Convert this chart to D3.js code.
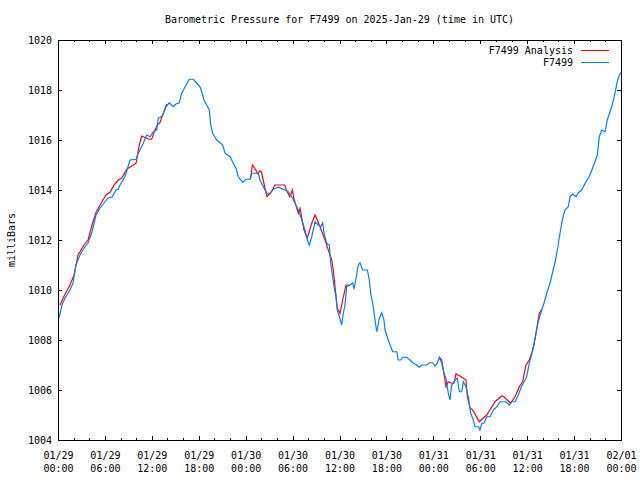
<!DOCTYPE html>
<html>
<head>
<meta charset="utf-8">
<script src="https://cdn.jsdelivr.net/npm/d3@7"></script>
<style>
html,body{margin:0;padding:0;background:#fff;}
svg{display:block;}
text{font-family:"DejaVu Sans Mono","Liberation Mono",monospace;font-size:10px;fill:#000;}
</style>
</head>
<body>
<svg id="chart" width="640" height="480"></svg>
<script>
// ---- data (hours after 2025-01-29 00:00 UTC, pressure in mb) ----
const stationHours = [0.13,0.51,0.90,1.53,1.92,2.30,2.81,3.33,3.84,4.35,4.86,5.37,5.88,6.39,6.91,7.42,7.71,7.93,8.57,9.21,9.98,10.27,10.91,11.34,11.77,12.19,12.62,12.83,13.26,13.47,13.81,14.23,14.75,15.09,15.51,15.82,16.15,16.46,16.79,17.30,17.74,18.16,18.38,18.67,19.02,19.35,19.53,19.78,20.30,21.06,21.36,22.00,22.42,22.76,23.06,23.62,24.04,24.55,24.77,25.62,25.83,26.26,26.69,27.11,27.53,28.17,28.81,29.45,29.89,30.31,30.73,31.17,31.59,31.88,32.14,32.45,32.87,33.29,33.60,33.85,34.02,34.36,34.70,34.87,35.13,35.30,35.55,35.72,35.98,36.28,36.49,36.70,36.92,37.34,37.69,37.86,38.11,38.40,38.62,38.97,39.56,39.81,39.99,40.32,40.54,40.76,41.09,41.40,41.69,41.82,42.24,42.55,42.80,43.32,43.52,43.83,44.08,44.59,45.02,45.44,45.87,46.21,46.51,47.15,47.48,47.92,48.21,48.51,48.76,49.07,49.36,49.62,49.91,50.13,50.35,50.55,50.77,51.07,51.32,51.63,51.84,52.18,52.47,52.78,53.11,53.33,53.75,53.97,54.19,54.48,54.83,55.25,55.67,56.11,56.53,57.30,57.72,58.02,58.45,58.87,59.17,59.60,59.94,60.27,60.71,61.13,61.42,61.73,62.15,62.50,62.92,63.27,63.56,63.86,64.20,64.49,64.84,65.26,65.48,65.82,66.25,66.54,66.97,67.52,68.03,68.67,68.97,69.23,69.53,69.95,70.25,70.59,70.94,71.23,71.52,71.78,72.0];
const stationValues = [1008.88,1009.4,1009.68,1010.0,1010.28,1011.0,1011.4,1011.68,1011.88,1012.32,1013.0,1013.28,1013.48,1013.68,1013.72,1014.0,1014.03,1014.2,1014.53,1015.2,1015.23,1015.47,1015.87,1016.2,1016.13,1016.33,1016.4,1016.87,1016.93,1017.07,1017.33,1017.49,1017.33,1017.44,1017.49,1017.87,1018.07,1018.24,1018.43,1018.43,1018.27,1018.13,1017.93,1017.6,1017.4,1017.2,1016.6,1016.27,1016.0,1015.8,1015.47,1015.33,1015.07,1014.87,1014.53,1014.31,1014.43,1014.43,1014.67,1014.67,1014.4,1014.13,1013.87,1013.87,1014.03,1014.11,1014.03,1013.93,1013.73,1013.47,1013.2,1012.8,1012.4,1012.0,1011.8,1012.13,1012.73,1012.6,1012.53,1012.69,1012.27,1011.87,1011.8,1011.07,1010.53,1010.13,1009.73,1009.2,1008.93,1008.6,1009.07,1009.4,1010.13,1010.2,1010.29,1010.03,1010.47,1011.0,1011.09,1010.8,1010.8,1010.4,1009.87,1009.33,1008.8,1008.33,1008.87,1009.09,1008.8,1008.4,1008.0,1007.73,1007.53,1007.53,1007.2,1007.2,1007.31,1007.31,1007.2,1007.07,1007.0,1006.91,1007.0,1007.0,1007.09,1007.09,1006.96,1007.07,1007.31,1007.07,1006.67,1006.47,1005.87,1005.6,1006.2,1006.27,1006.4,1006.47,1005.93,1005.93,1006.33,1006.13,1005.73,1005.07,1004.8,1004.53,1004.53,1004.4,1004.67,1004.67,1004.93,1004.93,1005.2,1005.33,1005.53,1005.53,1005.4,1005.53,1005.53,1005.8,1006.07,1006.33,1006.53,1007.07,1007.6,1008.27,1008.73,1009.07,1009.47,1009.87,1010.27,1010.73,1011.1,1011.6,1012.27,1012.8,1013.2,1013.33,1013.73,1013.84,1013.73,1013.89,1014.0,1014.33,1014.6,1015.13,1015.4,1016.13,1016.4,1016.33,1016.8,1017.13,1017.47,1017.87,1018.33,1018.6,1018.7];

// analysis series, three separate segments (gaps between them)
const analysisHours = [
  [0.26,0.77,1.53,2.05,2.56,3.33,3.84,4.35,4.86,5.37,6.14,6.65,7.16,7.71,8.15,8.79,9.98,10.40,10.70,11.13,11.68,11.98,12.28,12.70,13.04,13.47,13.90],
  [24.62,24.86,25.16,25.58,25.80,26.01,26.43,26.73,27.30,27.72,29.00,29.21,29.64,29.98,30.15,30.73,30.95,31.46,31.88,32.45,32.87,33.16,33.51,34.15,34.57,35.00,35.21,35.43,35.72,36.06,36.41,36.83,37.25],
  [48.76,49.07,49.28,49.62,49.91,50.35,50.64,50.90,51.41,51.84,52.18,52.35,52.70,53.04,53.88,54.83,55.89,56.74,57.04,57.89,58.45,58.99,59.42,59.85,60.27,60.71,60.87,61.13,61.55,61.86]
];
const analysisValues = [
  [1009.4,1009.75,1010.2,1010.6,1011.4,1011.8,1012.0,1012.6,1013.1,1013.4,1013.8,1013.9,1014.2,1014.4,1014.47,1014.83,1015.07,1015.8,1016.16,1016.1,1016.03,1016.03,1016.3,1016.6,1016.69,1017.07,1017.44],
  [1014.43,1015.0,1014.87,1014.64,1014.77,1014.73,1014.13,1013.73,1013.93,1014.2,1014.2,1014.0,1013.73,1014.0,1013.67,1013.07,1013.27,1012.4,1012.07,1012.67,1013.0,1012.8,1012.53,1012.0,1011.6,1011.2,1010.8,1010.13,1009.27,1009.07,1009.6,1010.2,1010.2],
  [1007.31,1007.2,1006.8,1006.13,1006.33,1006.27,1006.27,1006.64,1006.56,1006.47,1006.4,1005.73,1005.27,1005.2,1004.73,1005.0,1005.53,1005.76,1005.73,1005.47,1005.73,1006.13,1006.33,1007.0,1007.2,1007.6,1007.8,1008.27,1009.07,1009.23]
];

const yTicks = [1004,1006,1008,1010,1012,1014,1016,1018,1020];
const seriesNames = ["F7499 Analysis","F7499"];
const seriesColors = ["#ff0000","#0080ff"];
const titleText = "Barometric Pressure for F7499 on 2025-Jan-29 (time in UTC)";
const yLabel = "milliBars";

// ---- layout ----
const L = 58, R = 621, T = 40, B = 440;
const t0 = Date.UTC(2025,0,29,0,0);
const toDate = h => new Date(t0 + h*3600e3);

const svg = d3.select("#chart");
const x = d3.scaleUtc().domain([toDate(0), toDate(72)]).range([L, R]);
const y = d3.scaleLinear().domain([1004,1020]).range([B, T]);

const majorX = d3.range(0, 73, 6).map(toDate);
const minorX = d3.range(0, 73, 2).filter(h => h % 6 !== 0).map(toDate);

const fmtD = d3.utcFormat("%m/%d"), fmtT = d3.utcFormat("%H:%M");

// bottom axis major with labels
const gb = svg.append("g").attr("transform", `translate(0,${B})`)
  .call(d3.axisBottom(x).tickValues(majorX).tickSizeInner(-4).tickSizeOuter(0).tickPadding(6).tickFormat(fmtD));
gb.selectAll(".tick text").each(function(d){
  const t = d3.select(this);
  t.text(null).attr("dy", null).attr("y", 19);
  t.append("tspan").attr("x", 0).text(fmtD(d));
  t.append("tspan").attr("x", 0).attr("dy", 13).text(fmtT(d));
});
// bottom minor
svg.append("g").attr("transform", `translate(0,${B})`)
  .call(d3.axisBottom(x).tickValues(minorX).tickSizeInner(-2).tickSizeOuter(0).tickFormat(""));
// top axis major/minor (mirror)
svg.append("g").attr("transform", `translate(0,${T})`)
  .call(d3.axisTop(x).tickValues(majorX).tickSizeInner(-4).tickSizeOuter(0).tickFormat(""));
svg.append("g").attr("transform", `translate(0,${T})`)
  .call(d3.axisTop(x).tickValues(minorX).tickSizeInner(-2).tickSizeOuter(0).tickFormat(""));
// left axis
const gl = svg.append("g").attr("transform", `translate(${L},0)`)
  .call(d3.axisLeft(y).tickValues(yTicks).tickSizeInner(-4).tickSizeOuter(0).tickPadding(6).tickFormat(d3.format("d")));
// right axis mirror
svg.append("g").attr("transform", `translate(${R},0)`)
  .call(d3.axisRight(y).tickValues(yTicks).tickSizeInner(-4).tickSizeOuter(0).tickFormat(""));

svg.selectAll(".domain").remove();
svg.selectAll(".tick line").attr("stroke", "#000").attr("shape-rendering", "crispEdges");
svg.selectAll(".tick text").attr("font-family", "DejaVu Sans Mono").attr("font-size", 10).attr("fill", "#000");

// frame
svg.append("rect").attr("x", L + 0.5).attr("y", T + 0.5)
  .attr("width", R - L).attr("height", B - T)
  .attr("fill", "none").attr("stroke", "#000").attr("shape-rendering", "crispEdges");

// lines
const line = d3.line().x(d => x(toDate(d[0]))).y(d => y(d[1]));
const clip = svg.append("clipPath").attr("id", "clip").append("rect")
  .attr("x", L).attr("y", T).attr("width", R - L + 1).attr("height", B - T + 1);

const plot = svg.append("g").attr("clip-path", "url(#clip)");
analysisHours.forEach((hs, i) => {
  const pts = hs.map((h, j) => [h, analysisValues[i][j]]);
  plot.append("path").datum(pts).attr("d", line)
    .attr("fill", "none").attr("stroke", seriesColors[0]).attr("stroke-width", 1.2);
});
plot.append("path").datum(stationHours.map((h, j) => [h, stationValues[j]])).attr("d", line)
  .attr("fill", "none").attr("stroke", seriesColors[1]).attr("stroke-width", 1.2);

// title
svg.append("text").attr("x", (L + R) / 2).attr("y", 23).attr("text-anchor", "middle").text(titleText);
// y label
svg.append("text").attr("transform", `translate(15,${(T + B) / 2}) rotate(-90)`)
  .attr("text-anchor", "middle").text(yLabel);

// legend
seriesNames.forEach((n, i) => {
  const ly = 50 + i * 12;
  svg.append("text").attr("x", 573).attr("y", ly + 3.5).attr("text-anchor", "end").text(n);
  svg.append("line").attr("x1", 581).attr("x2", 609).attr("y1", ly + 0.5).attr("y2", ly + 0.5)
    .attr("stroke", seriesColors[i]).attr("stroke-width", 1).attr("shape-rendering", "crispEdges");
});
</script>
</body>
</html>
